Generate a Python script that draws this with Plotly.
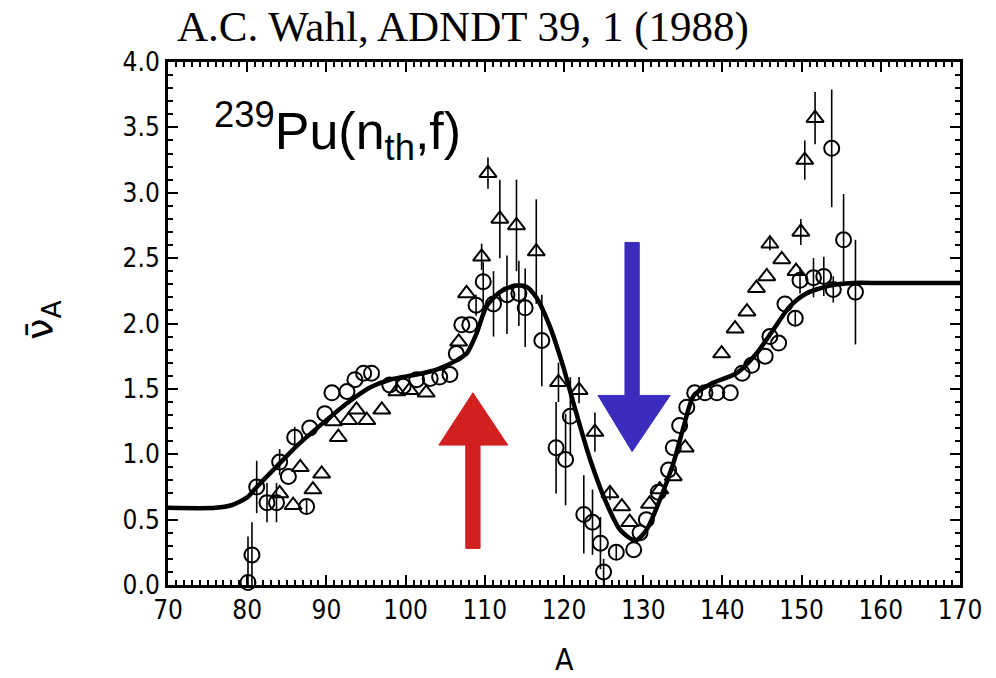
import plotly.graph_objects as go

# ---------------- data ----------------
curve_A = [70, 76, 78, 80, 81.2, 84.1, 86.2, 89.6, 92.6, 95.5, 98, 101.4, 104, 106.5,
           107.7, 109, 110.2, 111.9, 113.8, 115.3, 116.5, 118.2, 119.9, 121.2, 123.3,
           125.4, 127.1, 129.0, 130.4, 132.1, 133.8, 135.1, 136.4, 138.6, 141.8, 144.3,
           146.4, 148.5, 150.6, 153.6, 156.5, 160, 170]
curve_nu = [0.59, 0.59, 0.61, 0.67, 0.75, 0.93, 1.06, 1.24, 1.39, 1.51, 1.57, 1.61, 1.65, 1.72,
            1.77, 1.93, 2.13, 2.24, 2.29, 2.28, 2.20, 1.98, 1.67, 1.39, 0.96,
            0.62, 0.42, 0.34, 0.42, 0.65, 0.93, 1.21, 1.45, 1.54, 1.62, 1.77,
            1.95, 2.13, 2.23, 2.29, 2.31, 2.31, 2.31]

circ_A = [80.1, 80.6, 81.2, 82.5, 83.7, 84.1, 85.2, 87.5, 86.0, 87.9, 89.8, 90.7, 92.6, 93.6,
          94.7, 95.7, 98.0, 99.7, 101.4, 103.1, 104.3, 105.6, 106.4, 107.1, 108.1, 108.9,
          109.8, 111.1, 112.8, 114.3, 115.1, 117.2, 119.0, 120.2, 120.8, 122.5, 123.6, 124.6,
          125.0, 126.6, 128.8, 129.6, 130.4, 131.9, 133.2, 133.8, 134.6, 135.5, 136.5, 137.8,
          139.3, 141.0, 142.5, 143.7, 145.4, 146.0, 147.1, 147.9, 149.2, 149.8, 151.5, 152.8,
          154.0, 153.8, 155.3, 156.8]
circ_nu = [0.02, 0.23, 0.75, 0.63, 0.63, 0.94, 0.83, 0.60, 1.13, 1.20, 1.31, 1.47, 1.48, 1.57,
           1.62, 1.62, 1.53, 1.52, 1.57, 1.58, 1.59, 1.61, 1.77, 1.99, 1.99, 2.14,
           2.32, 2.15, 2.22, 2.23, 2.12, 1.87, 1.05, 0.96, 1.29, 0.54, 0.48, 0.32,
           0.10, 0.25, 0.27, 0.40, 0.50, 0.71, 0.88, 1.05, 1.22, 1.36, 1.47, 1.47,
           1.47, 1.47, 1.62, 1.68, 1.75, 1.90, 1.85, 2.15, 2.04, 2.33, 2.35, 2.36,
           2.26, 3.34, 2.64, 2.24]
circ_err = [0.35, 0.25, 0.20, 0.15, 0.15, 0.10, 0.00, 0.05, 0.08, 0.00, 0.00, 0.00, 0.00, 0.00,
            0.00, 0.00, 0.00, 0.00, 0.00, 0.00, 0.00, 0.00, 0.00, 0.00, 0.00, 0.08,
            0.15, 0.25, 0.30, 0.25, 0.30, 0.35, 0.35, 0.35, 0.30, 0.30, 0.25, 0.20,
            0.10, 0.05, 0.00, 0.00, 0.00, 0.00, 0.00, 0.00, 0.00, 0.00, 0.00, 0.00,
            0.00, 0.00, 0.00, 0.00, 0.00, 0.00, 0.00, 0.00, 0.05, 0.10, 0.15, 0.15,
            0.10, 0.45, 0.35, 0.40]

tri_A = [84.1, 85.8, 86.7, 88.3, 89.4, 91.5, 90.9, 92.8, 93.8, 95.1, 97.0, 98.9, 100.5, 102.6,
         106.7, 107.7, 109.6, 110.4, 111.9, 114.0, 116.5, 119.3, 121.9, 123.9, 125.8, 127.3,
         128.3, 130.8, 132.1, 133.8, 135.3, 139.9, 141.6, 143.1, 144.3, 145.6, 146.0, 147.5,
         149.3, 149.9, 150.4, 151.7]
tri_nu = [0.70, 0.61, 0.90, 0.73, 0.85, 1.13, 1.25, 1.26, 1.34, 1.26, 1.34, 1.48, 1.49, 1.47,
          1.86, 2.23, 2.51, 3.15, 2.80, 2.75, 2.55, 1.55, 1.49, 1.17, 0.70, 0.60,
          0.48, 0.62, 0.73, 0.83, 1.05, 1.77, 1.96, 2.09, 2.27, 2.36, 2.61, 2.49,
          2.40, 2.70, 3.25, 3.57]
tri_err = [0.00, 0.00, 0.00, 0.00, 0.00, 0.00, 0.00, 0.00, 0.00, 0.00, 0.00, 0.00, 0.00, 0.00,
           0.00, 0.00, 0.10, 0.12, 0.30, 0.35, 0.40, 0.15, 0.10, 0.15, 0.05, 0.00,
           0.00, 0.00, 0.00, 0.00, 0.00, 0.00, 0.00, 0.00, 0.00, 0.00, 0.05, 0.00,
           0.00, 0.10, 0.15, 0.20]

x_ticks = [70, 80, 90, 100, 110, 120, 130, 140, 150, 160, 170]
y_ticks = [0.0, 0.5, 1.0, 1.5, 2.0, 2.5, 3.0, 3.5, 4.0]

# ---------------- figure ----------------
fig = go.Figure()

fig.add_trace(go.Scatter(
    x=tri_A, y=tri_nu, mode="markers",
    marker=dict(symbol="triangle-up-open", size=15, color="black", line=dict(width=2)),
    error_y=dict(type="data", array=tri_err, visible=True, thickness=1.6, width=0, color="black"),
    cliponaxis=False, showlegend=False))

fig.add_trace(go.Scatter(
    x=circ_A, y=circ_nu, mode="markers",
    marker=dict(symbol="circle-open", size=15, color="black", line=dict(width=2)),
    error_y=dict(type="data", array=circ_err, visible=True, thickness=1.6, width=0, color="black"),
    cliponaxis=False, showlegend=False))

fig.add_trace(go.Scatter(
    x=curve_A, y=curve_nu, mode="lines",
    line=dict(color="black", width=4.5, shape="spline", smoothing=0.7),
    showlegend=False))

# hand-drawn style arrows (decorations)
red = dict(sx0=107.6, sx1=109.4, ybot=0.28, hbase=1.07, tip=1.47, hx0=104.2, hx1=112.9)
blue = dict(sx0=127.7, sx1=129.5, ytop=2.62, hbase=1.45, tip=1.02, hx0=124.3, hx1=133.4)
red_path = (f"M {red['sx0']},{red['ybot']} L {red['sx0']},{red['hbase']} L {red['hx0']},{red['hbase']} "
            f"L {(red['sx0']+red['sx1'])/2},{red['tip']} L {red['hx1']},{red['hbase']} "
            f"L {red['sx1']},{red['hbase']} L {red['sx1']},{red['ybot']} Z")
blue_path = (f"M {blue['sx0']},{blue['ytop']} L {blue['sx0']},{blue['hbase']} L {blue['hx0']},{blue['hbase']} "
             f"L {(blue['sx0']+blue['sx1'])/2},{blue['tip']} L {blue['hx1']},{blue['hbase']} "
             f"L {blue['sx1']},{blue['hbase']} L {blue['sx1']},{blue['ytop']} Z")
fig.add_shape(type="path", path=red_path, xref="x", yref="y",
              fillcolor="#d22020", line=dict(color="#d22020", width=1), layer="above")
fig.add_shape(type="path", path=blue_path, xref="x", yref="y",
              fillcolor="#3a2dbe", line=dict(color="#3a2dbe", width=1), layer="above")

tickfont = dict(family="DejaVu Sans Condensed, DejaVu Sans, sans-serif", size=26, color="black")

fig.update_xaxes(range=[70, 170], tickvals=x_ticks, ticktext=[str(v) for v in x_ticks],
                 showgrid=False, zeroline=False, showline=True, linewidth=3, linecolor="black",
                 mirror="allticks", ticks="inside", ticklen=10, tickwidth=2, tickcolor="black",
                 minor=dict(ticks="inside", dtick=1, ticklen=5, tickwidth=1.5, tickcolor="black"),
                 tickfont=tickfont)
fig.update_yaxes(range=[0, 4], tickvals=y_ticks, ticktext=[f"{v:.1f}" for v in y_ticks],
                 showgrid=False, zeroline=False, showline=True, linewidth=3, linecolor="black",
                 mirror="allticks", ticks="inside", ticklen=10, tickwidth=2, tickcolor="black",
                 minor=dict(ticks="inside", dtick=0.1, ticklen=5, tickwidth=1.5, tickcolor="black"),
                 tickfont=tickfont)

fig.add_annotation(text="A.C. Wahl, ADNDT 39, 1 (1988)", xref="paper", yref="paper",
                   x=0.373, y=1.066, xanchor="center", yanchor="middle", showarrow=False,
                   font=dict(family="Liberation Serif, Times New Roman, serif", size=43, color="black"))
fig.add_annotation(text="<sup>239</sup>Pu(n<sub>th</sub>,f)", xref="x", yref="y",
                   x=75.5, y=3.47, xanchor="left", yanchor="middle", showarrow=False,
                   font=dict(family="Liberation Sans, Arial, sans-serif", size=52, color="black"))
fig.add_annotation(text="A", xref="paper", yref="paper", x=0.5, y=-0.143,
                   xanchor="center", yanchor="middle", showarrow=False,
                   font=dict(family="DejaVu Sans Condensed, DejaVu Sans, sans-serif", size=30, color="black"))
fig.add_annotation(text="ν\u0304<sub>A</sub>", xref="paper", yref="paper", x=-0.158, y=0.507,
                   xanchor="center", yanchor="middle", showarrow=False, textangle=-90,
                   font=dict(family="DejaVu Sans, sans-serif", size=38, color="black"))

fig.update_layout(width=996, height=678, margin=dict(l=168, r=36, t=62, b=93),
                  paper_bgcolor="white", plot_bgcolor="white")

# remove the browser's default 8px body margin so the figure fills the window exactly
fig.write_html("out.html", config={"displayModeBar": False},
               post_script="document.body.style.margin='0';document.body.style.overflow='hidden';")
